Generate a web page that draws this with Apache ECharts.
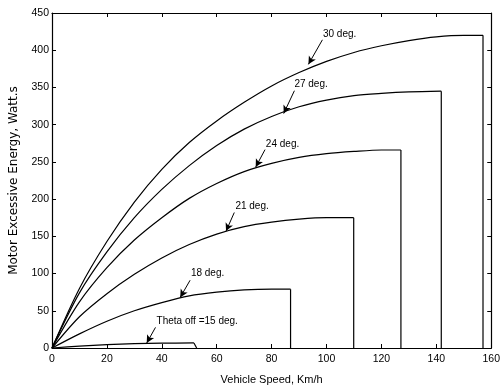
<!DOCTYPE html>
<html>
<head>
<meta charset="utf-8">
<script src="https://cdn.jsdelivr.net/npm/echarts@6/dist/echarts.min.js"></script>
<style>
  html, body { margin: 0; padding: 0; background: #fff; }
  #chart { width: 503px; height: 390px; }
</style>
</head>
<body>
<div id="chart"></div>
<script>
// Motor excessive energy vs. vehicle speed for several turn-off angles
const angleNames = ['Theta off =15 deg.', '18 deg.', '21 deg.', '24 deg.', '27 deg.', '30 deg.'];

const speed15  = [0, 10, 20, 30, 40, 51.7];
const energy15 = [0, 2.5, 4.5, 5.8, 6.5, 6.8];

const speed18  = [0, 10, 20, 30, 40, 50, 60, 70, 80, 86.9];
const energy18 = [0, 19, 36, 50, 61, 70, 75, 78, 79, 79];

const speed21  = [0, 10, 20, 30, 40, 50, 60, 70, 80, 90, 100, 109.9];
const energy21 = [0, 42, 73, 99, 121, 139, 153, 163, 169, 173, 175, 175];

const speed24  = [0, 10, 20, 30, 40, 50, 60, 70, 80, 90, 100, 110, 120, 127.1];
const energy24 = [0, 62, 108, 145, 175, 201, 221, 237, 248, 256, 261, 264, 266, 266];

const speed27  = [0, 10, 20, 30, 40, 50, 60, 70, 80, 90, 100, 110, 120, 130, 141.8];
const energy27 = [0, 74, 129, 175, 213, 245, 272, 294, 311, 324, 333, 339, 342, 344, 345];

const speed30  = [0, 10, 20, 30, 40, 50, 60, 70, 80, 90, 100, 110, 120, 130, 140, 150, 157];
const energy30 = [0, 80, 143, 196, 240, 276, 305, 330, 352, 370, 385, 397, 406, 413, 418, 420, 420];

// speed at which each curve is cut back to zero
const cutoffSpeed = [52.7, 86.9, 109.9, 127.1, 141.8, 157];

const xTicks = [0, 20, 40, 60, 80, 100, 120, 140, 160];
const yTicks = [0, 50, 100, 150, 200, 250, 300, 350, 400, 450];

// callout placement: text anchor, arrow tail, arrow tip (data units)
const callouts = [
  { text: [38.1, 36],  tail: [37.7, 27.7], tip: [34.5, 6.6] },
  { text: [50.6, 100], tail: [50.3, 91],   tip: [46.7, 68] },
  { text: [66.8, 191], tail: [66.4, 182],  tip: [63.4, 157] },
  { text: [77.9, 274], tail: [77.6, 266.5], tip: [74.2, 243] },
  { text: [88.3, 354], tail: [88.3, 345.6], tip: [84.4, 315] },
  { text: [98.7, 422], tail: [98.5, 414],  tip: [93.4, 381] }
];

const speeds = [speed15, speed18, speed21, speed24, speed27, speed30];
const energies = [energy15, energy18, energy21, energy24, energy27, energy30];

const FONT = 'Liberation Sans';
const lineStyle = { color: '#000', width: 1.2 };

const series = [];
speeds.forEach((sp, i) => {
  const en = energies[i];
  const pts = sp.map((s, k) => [s, en[k]]);
  const c = callouts[i];
  series.push({
    type: 'line',
    data: pts,
    smooth: 0.3,
    symbol: 'none',
    lineStyle: lineStyle,
    z: 3,
    markLine: {
      silent: true,
      symbol: ['none', 'arrow'],
      symbolSize: [6, 8],
      lineStyle: { color: '#000', width: 1, type: 'solid' },
      label: { show: false },
      data: [[{ coord: c.tail }, { coord: c.tip }]]
    },
    markPoint: {
      silent: true,
      symbol: 'circle',
      symbolSize: 0,
      label: {
        show: true,
        position: 'right',
        distance: 0,
        formatter: angleNames[i],
        color: '#000',
        fontFamily: FONT,
        fontSize: 10
      },
      data: [{ coord: c.text }]
    }
  });
  // cut-off drop back to zero
  series.push({
    type: 'line',
    data: [[sp[sp.length - 1], en[en.length - 1]], [cutoffSpeed[i], 0]],
    symbol: 'none',
    lineStyle: lineStyle,
    z: 3
  });
});

const axisLabelStyle = { color: '#000', fontFamily: FONT, fontSize: 10.5 };
const frameLine = { onZero: false, lineStyle: { color: '#000', width: 1.2 } };
const innerTick = { inside: true, length: 4, lineStyle: { color: '#000' } };

const chart = echarts.init(document.getElementById('chart'), null, { renderer: 'canvas' });
chart.setOption({
  animation: false,
  backgroundColor: '#fff',
  grid: { left: 50, right: 7, top: 13, bottom: 36, containLabel: false },
  xAxis: [
    {
      type: 'value', min: 0, max: 160, interval: 20,
      name: 'Vehicle Speed, Km/h', nameLocation: 'middle', nameGap: 26,
      nameTextStyle: { color: '#000', fontFamily: FONT, fontSize: 11 },
      axisLine: frameLine,
      axisTick: innerTick,
      axisLabel: Object.assign({ margin: 6, formatter: v => xTicks.includes(v) ? String(v) : '' }, axisLabelStyle),
      splitLine: { show: false }
    },
    {
      type: 'value', min: 0, max: 160, interval: 20, position: 'top',
      axisLine: frameLine,
      axisTick: innerTick,
      axisLabel: { show: false }, splitLine: { show: false }
    }
  ],
  yAxis: [
    {
      type: 'value', min: 0, max: 450, interval: 50,
      name: 'Motor Excessive Energy, Watt.s', nameLocation: 'middle', nameGap: 32,
      nameTextStyle: { color: '#000', fontFamily: 'DejaVu Sans', fontSize: 12 },
      axisLine: frameLine,
      axisTick: innerTick,
      axisLabel: Object.assign({ margin: 3, formatter: v => yTicks.includes(v) ? String(v) : '' }, axisLabelStyle),
      splitLine: { show: false }
    },
    {
      type: 'value', min: 0, max: 450, interval: 50, position: 'right',
      axisLine: frameLine,
      axisTick: innerTick,
      axisLabel: { show: false }, splitLine: { show: false }
    }
  ],
  series: series
});
</script>
</body>
</html>
